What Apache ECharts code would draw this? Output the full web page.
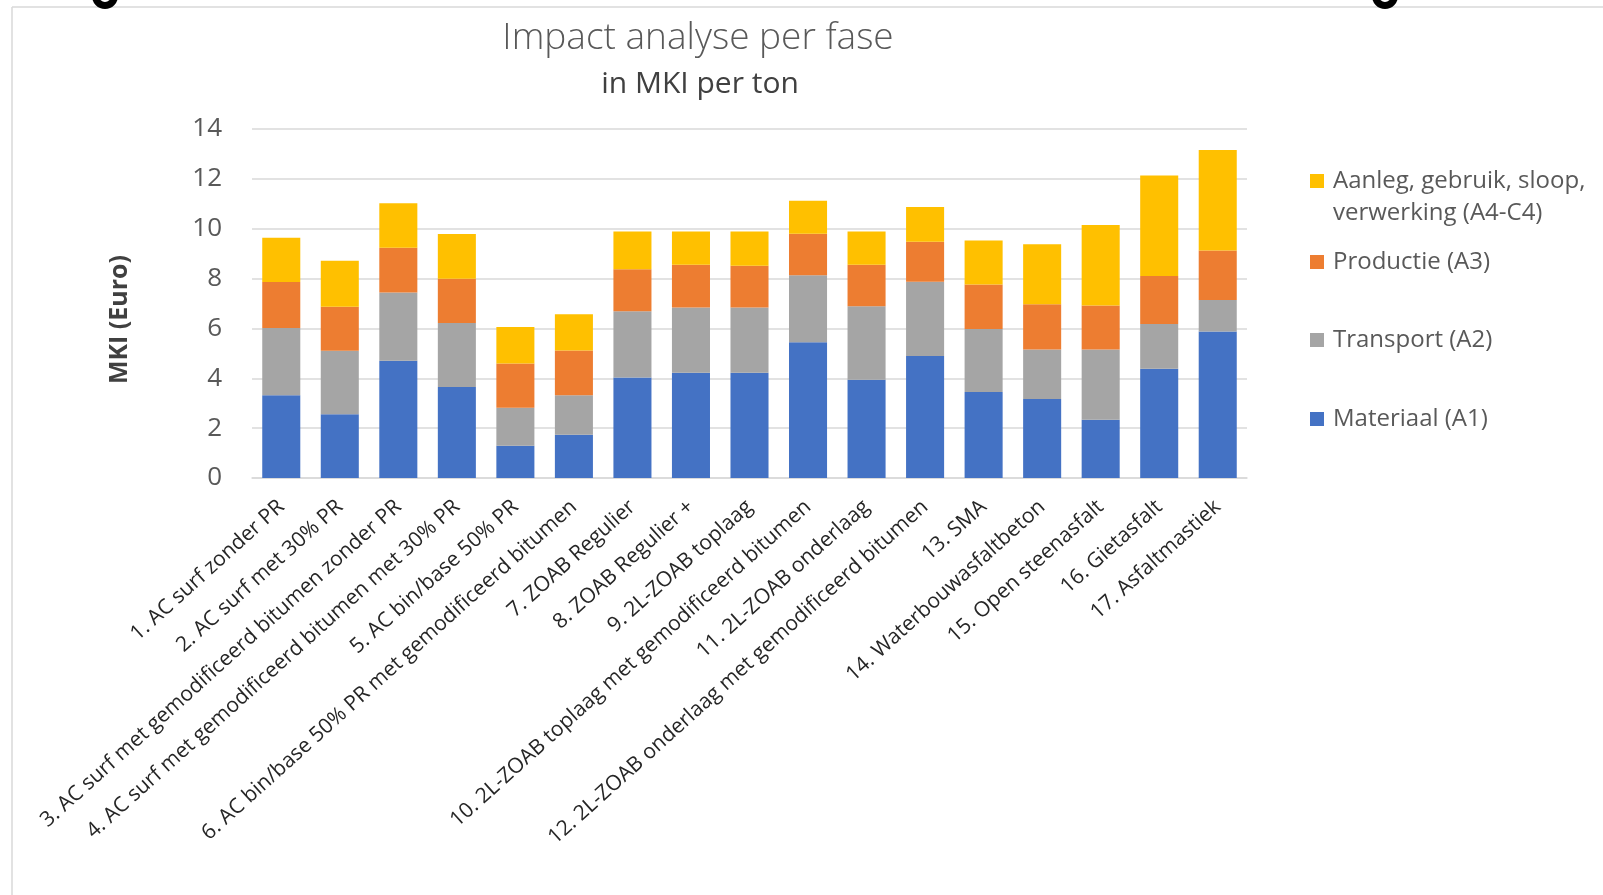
<!DOCTYPE html>
<html lang="nl">
<head>
<meta charset="UTF-8">
<title>Impact analyse per fase</title>
<script src="https://cdn.jsdelivr.net/npm/echarts@6/dist/echarts.min.js"></script>
<style>
    html, body { margin: 0; padding: 0; background: #fff; }
    #container { width: 1603px; height: 895px; }
</style>
</head>
<body>
<div id="container"></div>
<script type="text/javascript">
    // categorieen (x-as)
    var categories = [
        '1. AC surf zonder PR',
        '2. AC surf met 30% PR',
        '3. AC surf met gemodificeerd bitumen zonder PR',
        '4. AC surf met gemodificeerd bitumen met 30% PR',
        '5. AC bin/base 50% PR',
        '6. AC bin/base 50% PR met gemodificeerd bitumen',
        '7. ZOAB Regulier',
        '8. ZOAB Regulier +',
        '9. 2L-ZOAB toplaag',
        '10. 2L-ZOAB toplaag met gemodificeerd bitumen',
        '11. 2L-ZOAB onderlaag',
        '12. 2L-ZOAB onderlaag met gemodificeerd bitumen',
        '13. SMA',
        '14. Waterbouwasfaltbeton',
        '15. Open steenasfalt',
        '16. Gietasfalt',
        '17. Asfaltmastiek'
    ];

    // waarden per fase (MKI per ton)
    var materiaal  = [3.32, 2.56, 4.70, 3.65, 1.29, 1.73, 4.03, 4.22, 4.22, 5.45, 3.94, 4.89, 3.45, 3.17, 2.34, 4.38, 5.88];
    var transport  = [2.70, 2.54, 2.74, 2.57, 1.53, 1.59, 2.66, 2.62, 2.62, 2.68, 2.95, 2.98, 2.53, 1.98, 2.81, 1.80, 1.26];
    var productie  = [1.84, 1.77, 1.80, 1.77, 1.77, 1.79, 1.68, 1.71, 1.67, 1.67, 1.66, 1.61, 1.78, 1.82, 1.77, 1.92, 1.99];
    var aanleg     = [1.78, 1.84, 1.78, 1.80, 1.47, 1.46, 1.52, 1.34, 1.38, 1.32, 1.34, 1.39, 1.77, 2.41, 3.23, 4.03, 4.03];

    var names = ['Materiaal (A1)', 'Transport (A2)', 'Productie (A3)', 'Aanleg, gebruik, sloop,\nverwerking (A4-C4)'];
    var colors = ['#4472C4', '#A5A5A5', '#ED7D31', '#FFC000'];
    var yTicks = [0, 2, 4, 6, 8, 10, 12, 14];

    var font = 'Open Sans';
    var dom = document.getElementById('container');
    var myChart = echarts.init(dom, null, { renderer: 'canvas' });

    function makeLegend(name, top, formatter) {
        var lg = {
            orient: 'vertical',
            left: 1310,
            top: top,
            padding: 0,
            itemWidth: 14,
            itemHeight: 14,
            itemGap: 0,
            icon: 'rect',
            selectedMode: false,
            data: [name],
            textStyle: { fontFamily: font, fontSize: 24, color: '#595959', lineHeight: 32, padding: [0, 0, 0, 4] }
        };
        if (formatter) lg.formatter = formatter;
        return lg;
    }

    var option = {
        backgroundColor: '#fff',
        color: colors,
        animation: false,
        title: [
            {
                text: 'Impact analyse per fase',
                left: 693, top: 15, textAlign: 'center',
                textStyle: { fontFamily: font, fontWeight: 300, fontSize: 37, color: '#595959' }
            },
            {
                text: 'in MKI per ton',
                left: 695, top: 64, textAlign: 'center',
                textStyle: { fontFamily: font, fontWeight: 'normal', fontSize: 30, color: '#404040' }
            }
        ],
        legend: [
            // eerste regel van de tekst op hoogte van het icoon
            makeLegend(names[3], 133, function (n) { return ' \n' + n; }),
            makeLegend(names[2], 246),
            makeLegend(names[1], 324),
            makeLegend(names[0], 403)
        ],
        grid: {
            left: 252,
            right: 356,
            top: 129,
            bottom: 417
        },
        xAxis: {
            type: 'category',
            data: categories,
            axisLine: { lineStyle: { color: '#D9D9D9', width: 1.5 } },
            axisTick: { show: false },
            axisLabel: {
                interval: 0,
                rotate: 42,
                margin: 26,
                fontFamily: font,
                fontSize: 21,
                color: '#262626'
            }
        },
        yAxis: {
            type: 'value',
            min: yTicks[0],
            max: yTicks[yTicks.length - 1],
            interval: 2,
            name: 'MKI (Euro)',
            nameLocation: 'middle',
            nameGap: 120,
            nameRotate: 90,
            nameTextStyle: { fontFamily: font, fontWeight: 'bold', fontSize: 25, color: '#404040', padding: [0, 32, 0, 0] },
            axisLine: { show: false },
            axisTick: { show: false },
            axisLabel: { margin: 30, fontFamily: font, fontSize: 26, color: '#595959' },
            splitLine: { lineStyle: { color: '#D9D9D9', width: 1.5 } }
        },
        series: [
            { name: names[0], type: 'bar', stack: 'mki', barWidth: '65%', data: materiaal },
            { name: names[1], type: 'bar', stack: 'mki', barWidth: '65%', data: transport },
            { name: names[2], type: 'bar', stack: 'mki', barWidth: '65%', data: productie },
            { name: names[3], type: 'bar', stack: 'mki', barWidth: '65%', data: aanleg }
        ],
        graphic: [
            // kader rond de grafiek
            { type: 'line', shape: { x1: 12, y1: 7, x2: 1603, y2: 7 }, style: { stroke: '#D9D9D9', lineWidth: 1.5 } },
            { type: 'line', shape: { x1: 12, y1: 7, x2: 12, y2: 895 }, style: { stroke: '#D9D9D9', lineWidth: 1.5 } },
            // resten van tekst boven de grafiek
            { type: 'ring', shape: { cx: 105, cy: -4, r: 13, r0: 6 }, style: { fill: '#000' } },
            { type: 'ring', shape: { cx: 1385, cy: -4, r: 13, r0: 6 }, style: { fill: '#000' } }
        ]
    };
    myChart.setOption(option);
    window.addEventListener('resize', myChart.resize);
</script>
</body>
</html>
